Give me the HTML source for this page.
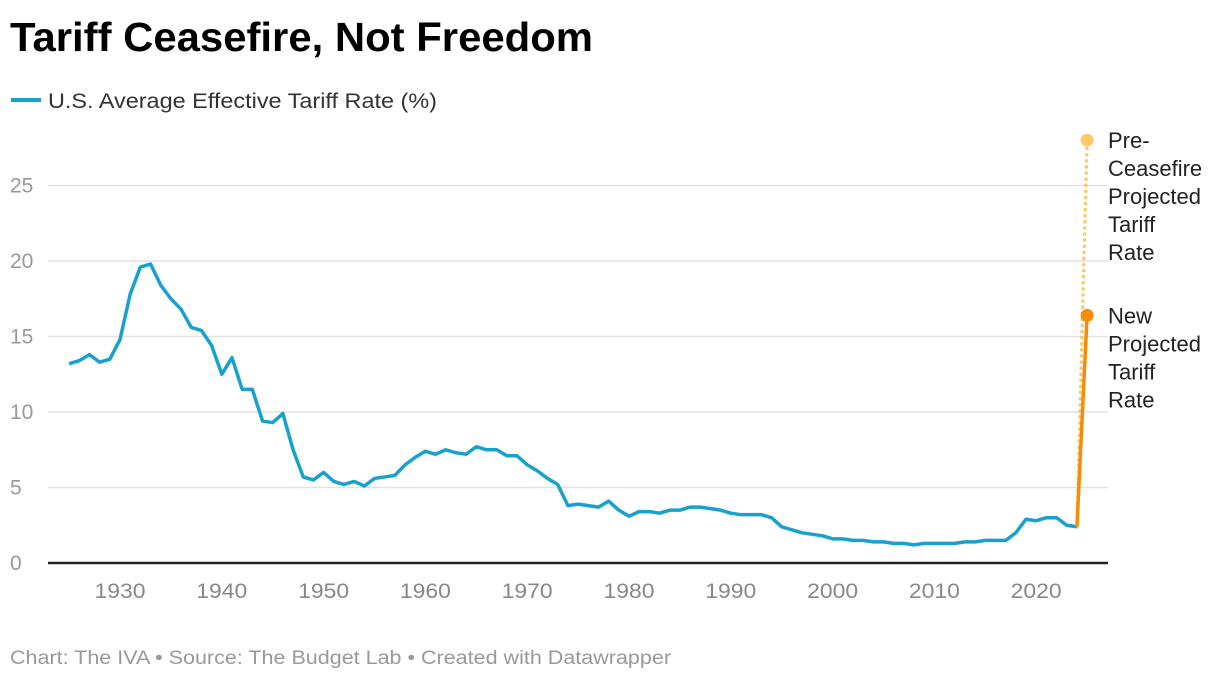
<!DOCTYPE html>
<html><head><meta charset="utf-8"><style>
body{margin:0;background:#fff;font-family:"Liberation Sans",sans-serif;}
svg text{font-family:"Liberation Sans",sans-serif;}
</style></head><body>
<svg width="1220" height="680" id="c">
<text x="10" y="51" font-size="41" font-weight="bold" fill="#000" textLength="583" lengthAdjust="spacingAndGlyphs">Tariff Ceasefire, Not Freedom</text>
<g>
<line x1="11" y1="100" x2="41" y2="100" stroke="#18a1cd" stroke-width="4"/>
<text x="48" y="108" font-size="21" fill="#333" textLength="389" lengthAdjust="spacingAndGlyphs">U.S. Average Effective Tariff Rate (%)</text>
</g>
<text x="10" y="664" font-size="19" fill="#999" textLength="661" lengthAdjust="spacingAndGlyphs">Chart: The IVA • Source: The Budget Lab • Created with Datawrapper</text>
<g id="grid"></g><g id="marks"></g>
</svg>
<script>
const years=[];for(let y=1925;y<=2024;y++)years.push(y);
const rates=[13.2,13.4,13.8,13.3,13.5,14.8,17.8,19.6,19.8,18.4,17.5,16.8,15.6,15.4,14.4,12.5,13.6,11.5,11.5,9.4,9.3,9.9,7.5,5.7,5.5,6.0,5.4,5.2,5.4,5.1,5.6,5.7,5.8,6.5,7.0,7.4,7.2,7.5,7.3,7.2,7.7,7.5,7.5,7.1,7.1,6.5,6.1,5.6,5.2,3.8,3.9,3.8,3.7,4.1,3.5,3.1,3.4,3.4,3.3,3.5,3.5,3.7,3.7,3.6,3.5,3.3,3.2,3.2,3.2,3.0,2.4,2.2,2.0,1.9,1.8,1.6,1.6,1.5,1.5,1.4,1.4,1.3,1.3,1.2,1.3,1.3,1.3,1.3,1.4,1.4,1.5,1.5,1.5,2.0,2.9,2.8,3.0,3.0,2.5,2.4];
const projYear=2025;
const preCeasefire=28.0;
const newProjected=16.4;
const yTicks=[0,5,10,15,20,25];
const xTicks=[1930,1940,1950,1960,1970,1980,1990,2000,2010,2020];
const X=y=>120+(y-1930)*10.18, Y=v=>563-v*15.1;
const NS="http://www.w3.org/2000/svg";
const grid=document.getElementById('grid'),marks=document.getElementById('marks');
function mk(t,a,p){const e=document.createElementNS(NS,t);for(const k in a)e.setAttribute(k,a[k]);p.appendChild(e);return e;}
yTicks.forEach(v=>{
 if(v>0){const l=mk('line',{x1:48,x2:1108,y1:Y(v),y2:Y(v),stroke:'#e2e2e2','stroke-width':1.5},grid);
 
 }
 const t=mk('text',{x:10,y:Y(v)+7,'font-size':21,fill:'#999'},grid);t.textContent=v;
 
 
});
const ax=mk('line',{x1:48,x2:1108,y1:563,y2:563,stroke:'#222','stroke-width':2.5},grid);


xTicks.forEach(v=>{const t=mk('text',{x:X(v),y:598,'font-size':21,fill:'#888','text-anchor':'middle',textLength:51,lengthAdjust:'spacingAndGlyphs'},grid);t.textContent=v;
 
 });
const pd=mk('line',{x1:X(2024),y1:Y(rates[rates.length-1]),x2:X(projYear),y2:Y(preCeasefire),stroke:'#fdc86a','stroke-width':3.5,'stroke-dasharray':'0.1 6','stroke-linecap':'round'},marks);


const ln=mk('polyline',{points:years.map((y,i)=>X(y)+','+Y(rates[i])).join(' '),fill:'none',stroke:'#18a1cd','stroke-width':3.5,'stroke-linejoin':'round'},marks);


const nl=mk('line',{x1:X(2024),y1:Y(rates[rates.length-1]),x2:X(projYear),y2:Y(newProjected),stroke:'#f78b0a','stroke-width':3.5},marks);


const d1=mk('circle',{cx:X(projYear),cy:Y(preCeasefire),r:6.5,fill:'#fdc86a'},marks);


const d2=mk('circle',{cx:X(projYear),cy:Y(newProjected),r:6.5,fill:'#f78b0a'},marks);


function label(lines,v,name){const t=mk('text',{'font-size':22,fill:'#222'},marks);
 
 
 lines.forEach((s,i)=>{const sp=mk('tspan',{x:1108,y:Y(v)+8+i*28},t);sp.textContent=s;});}
label(['Pre-','Ceasefire','Projected','Tariff','Rate'],preCeasefire,'pre-ceasefire-label');
label(['New','Projected','Tariff','Rate'],newProjected,'new-projected-label');
</script>
</body></html>
